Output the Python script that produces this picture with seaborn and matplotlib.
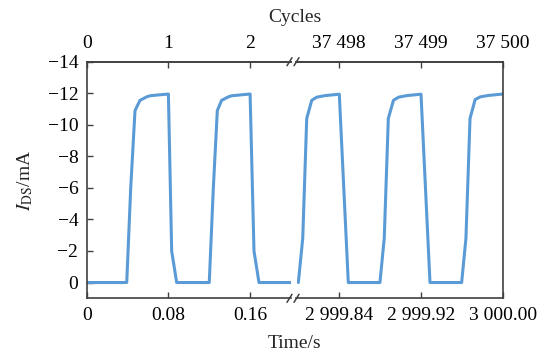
import matplotlib
matplotlib.use("Agg")
import matplotlib.pyplot as plt
from matplotlib.lines import Line2D
import seaborn as sns
import pandas as pd

# Drain current of the transistor during switching, start and end of the test
left_time = [0.0, 0.0392, 0.0431, 0.0473, 0.0522, 0.0587, 0.0620, 0.0698, 0.0800, 0.0832, 0.0881,
             0.1200, 0.1240, 0.1279, 0.1321, 0.1387, 0.1420, 0.1498, 0.1600, 0.1638, 0.1687, 0.1997]
left_current = [0.0, 0.0, -6.0, -10.9, -11.55, -11.77, -11.84, -11.89, -11.95, -2.0, 0.0,
                0.0, -6.0, -10.9, -11.55, -11.77, -11.84, -11.89, -11.95, -2.0, 0.0, 0.0]

right_time = [2999.7999, 2999.8042, 2999.8081, 2999.8130, 2999.8179, 2999.8260, 2999.8400, 2999.8488,
              2999.8798, 2999.8840, 2999.8880, 2999.8930, 2999.8980, 2999.9060, 2999.9200, 2999.9288,
              2999.9598, 2999.9640, 2999.9680, 2999.9730, 2999.9780, 2999.9860, 3000.0000]
right_current = [0.0, -2.8, -10.4, -11.55, -11.75, -11.85, -11.94, 0.0,
                 0.0, -2.8, -10.4, -11.55, -11.75, -11.85, -11.94, 0.0,
                 0.0, -2.8, -10.4, -11.6, -11.77, -11.86, -11.95]

period = 0.08  # seconds per switching cycle

time_ticks_left = [0.0, 0.08, 0.16]
time_labels_left = ["0", "0.08", "0.16"]
time_ticks_right = [2999.84, 2999.92, 3000.00]
time_labels_right = ["2 999.84", "2 999.92", "3 000.00"]
cycle_ticks_left = [0, 1, 2]
cycle_labels_left = ["0", "1", "2"]
cycle_ticks_right = [37498, 37499, 37500]
cycle_labels_right = ["37 498", "37 499", "37 500"]
current_ticks = [-14, -12, -10, -8, -6, -4, -2, 0]

sns.set_theme(style="ticks")
plt.rcParams["font.family"] = ["Liberation Serif", "DejaVu Serif"]
plt.rcParams["mathtext.fontset"] = "stix"
plt.rcParams["axes.unicode_minus"] = True

W, H = 545, 353
fig = plt.figure(figsize=(W / 100, H / 100), dpi=100)

line_color = "#5b9bd5"
spine_color = "#404040"
fs = 14

bottom = (H - 298.3) / H
height = (298.3 - 61.7) / H
ax1 = fig.add_axes([86.7 / W, bottom, (290.5 - 86.7) / W, height])
ax2 = fig.add_axes([296.5 / W, bottom, (502.7 - 296.5) / W, height])

left_df = pd.DataFrame({"time": left_time, "current": left_current})
right_df = pd.DataFrame({"time": right_time, "current": right_current})
sns.lineplot(data=left_df, x="time", y="current", ax=ax1, color=line_color, lw=2.2, sort=False)
sns.lineplot(data=right_df, x="time", y="current", ax=ax2, color=line_color, lw=2.2, sort=False)

ax1.set_xlim(0, (290.5 - 86.7) / 81.7 * period)
ax2.set_xlim(3000.0 - (502.7 - 296.5) / 81.7 * period, 3000.0)
for ax in (ax1, ax2):
    ax.set_ylim(1, -14)
    ax.set_xlabel("")
    ax.set_ylabel("")
    for s in ax.spines.values():
        s.set_color(spine_color)
        s.set_linewidth(1.2)
    ax.tick_params(direction="in", length=4, width=1, colors=spine_color,
                   labelcolor="black", labelsize=fs, pad=6)

ax1.spines["right"].set_visible(False)
ax2.spines["left"].set_visible(False)
ax1.set_yticks(current_ticks)
ax1.set_yticklabels([f"\u2212{abs(v)}" if v < 0 else str(v) for v in current_ticks])
ax2.tick_params(axis="y", left=False, labelleft=False)

ax1.set_xticks(time_ticks_left)
ax1.set_xticklabels(time_labels_left)
ax2.set_xticks(time_ticks_right)
ax2.set_xticklabels(time_labels_right)

# cycle count on the top axis
for ax, ticks, labels in ((ax1, cycle_ticks_left, cycle_labels_left),
                          (ax2, cycle_ticks_right, cycle_labels_right)):
    sec = ax.secondary_xaxis("top", functions=(lambda t: t / period, lambda c: c * period))
    sec.set_xticks(ticks)
    sec.set_xticklabels(labels)
    sec.tick_params(direction="in", length=4, width=1, colors=spine_color,
                    labelcolor="black", labelsize=fs, pad=7)
    sec.spines["top"].set_color(spine_color)
    sec.spines["top"].set_linewidth(1.2)

# axis-break marks
for yp in (61.7, 298.3):
    for xp in (289.5, 296.5):
        fig.add_artist(Line2D([(xp - 2.5) / W, (xp + 2.5) / W],
                              [(H - yp - 4) / H, (H - yp + 4) / H],
                              color=spine_color, lw=1.1, transform=fig.transFigure))

fig.text(294.7 / W, (H - 344) / H, "Time/s", ha="center", va="center", fontsize=fs)
fig.text(294.7 / W, (H - 17) / H, "Cycles", ha="center", va="center", fontsize=fs)
fig.text(25 / W, (H - 180) / H, r"$I_{\mathrm{DS}}$/mA", ha="center", va="center",
         rotation=90, fontsize=fs)

fig.savefig("out.png", dpi=100)
